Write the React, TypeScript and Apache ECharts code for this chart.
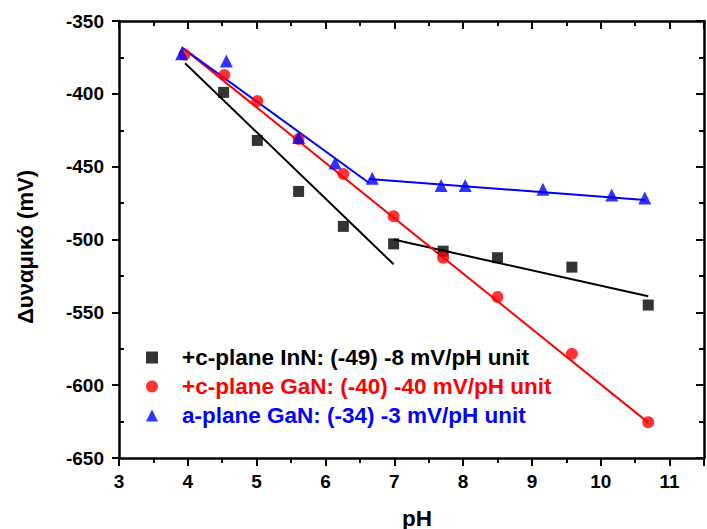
import React, { useEffect, useRef } from "react";
import * as echarts from "echarts";

const phInN = [4.52, 5.01, 5.61, 6.26, 6.99, 7.71, 8.5, 9.58, 10.69];
const vInN = [-399, -432, -467, -491, -503, -508, -512.5, -519, -545];
const phGaNc = [3.95, 4.53, 5.01, 5.61, 6.26, 6.99, 7.71, 8.5, 9.58, 10.69];
const vGaNc = [-373, -387, -405, -431, -455, -484, -512.5, -539.5, -578.5, -625.5];
const phGaNa = [3.91, 4.56, 5.61, 6.14, 6.68, 7.68, 8.03, 9.16, 10.16, 10.64];
const vGaNa = [-372.5, -377.5, -430, -447.5, -458, -463, -463, -465.5, -469.5, -471.5];

const fitInN1X = [3.96, 6.99];
const fitInN1Y = [-379, -517];
const fitInN2X = [6.99, 10.69];
const fitInN2Y = [-500, -539];
const fitGaNcX = [3.94, 10.69];
const fitGaNcY = [-369, -625.7];
const fitGaNa1X = [3.91, 6.63];
const fitGaNa1Y = [-368, -461];
const fitGaNa2X = [6.63, 10.64];
const fitGaNa2Y = [-458.5, -472.8];

const legendNames = [
  "+c-plane InN: (-49) -8 mV/pH unit",
  "+c-plane GaN: (-40) -40 mV/pH unit",
  "a-plane GaN: (-34) -3 mV/pH unit",
];
const legendIcons = ["rect", "circle", "triangle"];
const colors = ["#000000", "#ff0000", "#0000ff"];
const yTitle = "Δυναμικό (mV)";
const xTitle = "pH";

const zip = (xs: number[], ys: number[]) => xs.map((x, i) => [x, ys[i]]);

const FONT = "'Liberation Sans', Arial, sans-serif";

export default function App() {
  const ref = useRef<HTMLDivElement>(null);
  useEffect(() => {
    if (!ref.current) return;
    const chart = echarts.init(ref.current, undefined, { renderer: "svg" });
    const axisLine = { show: true, onZero: false, lineStyle: { color: "#000", width: 2.5 } };
    const fitLine = (name: string, xs: number[], ys: number[], color: string) => ({
      type: "line",
      name,
      data: zip(xs, ys),
      showSymbol: false,
      symbol: "none",
      lineStyle: { color, width: 2 },
      z: 2,
      silent: true,
    });
    const titleStyle = { fontFamily: FONT, fontWeight: "bold", fill: "#000", align: "center", verticalAlign: "middle" };
    chart.setOption({
      animation: false,
      backgroundColor: "#fff",
      grid: { left: 119, right: -7, top: 21, bottom: 71, containLabel: false },
      legend: {
        orient: "vertical",
        left: 141,
        top: 341,
        itemWidth: 12,
        itemHeight: 12,
        itemGap: 6,
        textStyle: { fontFamily: FONT, fontWeight: "bold", fontSize: 22.5, padding: [0, 0, 0, 19] },
        data: legendNames.map((n, i) => ({
          name: n,
          icon: legendIcons[i],
          textStyle: { color: colors[i] },
        })),
      },
      graphic: [
        {
          type: "text",
          x: 25,
          y: 247,
          rotation: Math.PI / 2,
          style: { ...titleStyle, text: yTitle, fontSize: 22 },
        },
        {
          type: "text",
          x: 417,
          y: 518,
          style: { ...titleStyle, text: xTitle, fontSize: 22.5 },
        },
      ],
      xAxis: [
        {
          type: "value",
          min: 3,
          max: 11.5,
          interval: 1,
          position: "bottom",
          axisLine,
          axisTick: { show: true, inside: false, length: 8, lineStyle: { color: "#000", width: 2 } },
          minorTick: { show: true, splitNumber: 2, length: 5, lineStyle: { color: "#000", width: 2 } },
          axisLabel: {
            fontFamily: FONT,
            fontWeight: "bold",
            fontSize: 19,
            color: "#000",
            margin: 14,
            formatter: (v: number) => (Number.isInteger(v) ? String(v) : ""),
          },
          splitLine: { show: false },
        },
        {
          type: "value",
          min: 3,
          max: 11.5,
          interval: 1,
          position: "top",
          axisLine,
          axisTick: { show: true, inside: true, length: 8, lineStyle: { color: "#000", width: 2 } },
          minorTick: { show: true, splitNumber: 2, length: 5, lineStyle: { color: "#000", width: 2 } },
          axisLabel: { show: false },
          splitLine: { show: false },
        },
      ],
      yAxis: [
        {
          type: "value",
          min: -650,
          max: -350,
          interval: 50,
          position: "left",
          axisLine,
          axisTick: { show: true, inside: false, length: 7, lineStyle: { color: "#000", width: 2 } },
          axisLabel: { fontFamily: FONT, fontWeight: "bold", fontSize: 19, color: "#000", margin: 15 },
          splitLine: { show: false },
        },
        {
          type: "value",
          min: -650,
          max: -350,
          interval: 50,
          position: "right",
          axisLine,
          axisTick: { show: true, inside: true, length: 8, lineStyle: { color: "#000", width: 2 } },
          minorTick: { show: true, splitNumber: 2, length: 5, lineStyle: { color: "#000", width: 2 } },
          axisLabel: { show: false },
          splitLine: { show: false },
        },
        {
          type: "value",
          min: -650,
          max: -350,
          interval: 50,
          position: "left",
          axisLine: { show: false },
          axisTick: { show: false, inside: true },
          minorTick: { show: true, splitNumber: 2, length: 5, lineStyle: { color: "#000", width: 2 } },
          axisLabel: { show: false },
          splitLine: { show: false },
        },
      ],
      series: [
        fitLine("fitInN1", fitInN1X, fitInN1Y, colors[0]),
        fitLine("fitInN2", fitInN2X, fitInN2Y, colors[0]),
        fitLine("fitGaNc", fitGaNcX, fitGaNcY, colors[1]),
        fitLine("fitGaNa1", fitGaNa1X, fitGaNa1Y, colors[2]),
        fitLine("fitGaNa2", fitGaNa2X, fitGaNa2Y, colors[2]),
        {
          type: "scatter",
          name: legendNames[0],
          data: zip(phInN, vInN),
          symbol: "rect",
          symbolSize: 11,
          itemStyle: { color: colors[0] },
          z: 3,
        },
        {
          type: "scatter",
          name: legendNames[1],
          data: zip(phGaNc, vGaNc),
          symbol: "circle",
          symbolSize: 12,
          itemStyle: { color: colors[1] },
          z: 3,
        },
        {
          type: "scatter",
          name: legendNames[2],
          data: zip(phGaNa, vGaNa),
          symbol: "triangle",
          symbolSize: 13,
          itemStyle: { color: colors[2] },
          z: 4,
        },
      ],
    });
    return () => chart.dispose();
  }, []);
  return <div ref={ref} style={{ width: 707, height: 529, position: "absolute", left: 0, top: 0 }} />;
}
